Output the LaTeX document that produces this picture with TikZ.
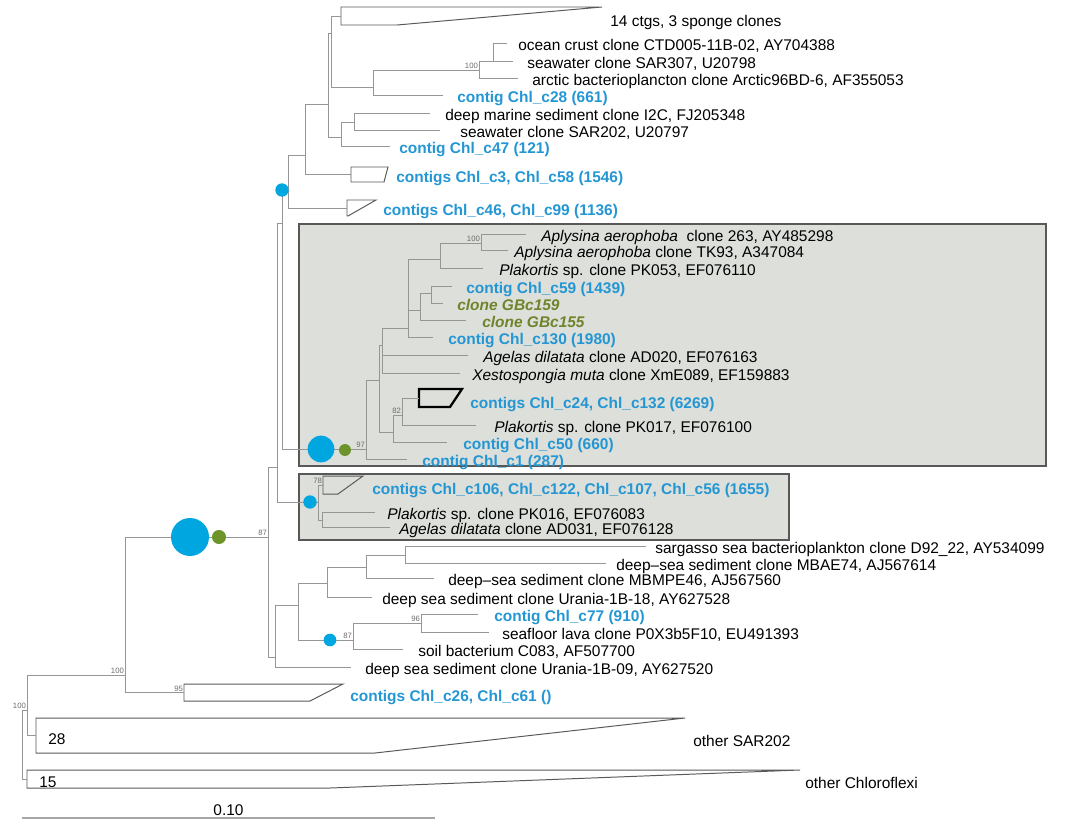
\documentclass[tikz,border=0pt]{standalone}
\usepackage{fontspec}
\setmainfont{Liberation Sans}
\usepackage{xcolor}
\usepackage{tikz}
\usetikzlibrary{positioning}

\definecolor{ctgblue}{RGB}{36,150,212}
\definecolor{dotblue}{RGB}{0,166,224}
\definecolor{dotgreen}{RGB}{108,148,42}
\definecolor{gbcolive}{RGB}{112,132,44}
\definecolor{boxfill}{RGB}{220,223,218}
\definecolor{boxline}{RGB}{88,88,88}
\definecolor{branch}{RGB}{150,150,150}

\newcommand{\ctg}[1]{\textcolor{ctgblue}{\bfseries #1}}
\newcommand{\gbc}[1]{\textcolor{gbcolive}{\bfseries\itshape #1}}

\tikzset{
  br/.style={draw=branch, line width=0.65pt},
  clade/.style={draw=gray!70!black, line width=0.7pt},
  leaf/.style={anchor=base west, inner sep=0pt, font=\fontsize{11}{12.5}\selectfont},
  boot/.style={anchor=south east, inner sep=0.6pt, text=gray!85!black, font=\fontsize{5.5}{6}\selectfont},
  sponge/.style={fill=boxfill, draw=boxline, line width=1.3pt},
  bdot/.style={circle, fill=dotblue, inner sep=0pt},
  gdot/.style={circle, fill=dotgreen, inner sep=0pt},
}

\begin{document}
\begin{tikzpicture}[x=0.025cm,y=-0.025cm]
  \useasboundingbox (0,0) rectangle (1073,824);
  \filldraw[sponge] (299,224) rectangle (1046,466);
  \filldraw[sponge] (299,474) rectangle (789,540);

  \foreach \nm/\x/\y in {R/22/744, S/27/710, n125/125/675, nA/268/537, nE/277/467, nF/275/657,
      nD/282/223, nC/288/190, n305/305/155, n328/328/104, n331/331/33, n373/373/87,
      n479/479/70, n493/493/61, n341/341/137, n354/354/122,
      n366/366/449, n379/379/380, n382/382/345, n408/408/328, n440/440/259, n481/481/243,
      n420/420/310, n431/431/293, n393/393/432, n402/402/415,
      nG/318/502, nH/322/520, nI/298/605, nJ/327/583, nL/366/567, nM/405/555,
      nK/353/640, nN/421/623}
    \coordinate (\nm) at (\x,\y);

  \foreach \nm/\xa/\ya/\xb/\xc/\yb in {c14/341/7/602/397/25, c3/351/167/388/384/182,
      c46/347/200/376/348/216, c106/323/476/363/338/494, c26/184/684/343/310/701,
      sar28/36/718/685/375/753, chl15/27/770/800/330/788}{
    \draw[clade] (\xa,\ya) -- (\xb,\ya) -- (\xc,\yb) -- (\xa,\yb) -- cycle;
    \coordinate (\nm) at (\xa,{(\ya+\yb)/2});
  }
  \draw[clade, draw=black, line width=1.6pt] (419,389) -- (462,389) -- (450,407) -- (419,407) -- cycle;
  \coordinate (c24) at (419,398);

  \foreach \nm/\xe/\y/\xt/\txt in {
      ocean/507/43/518/{ocean crust clone CTD005-11B-02, AY704388},
      sar307/513/61/527/{seawater clone SAR307, U20798},
      arctic/518/78/532/{arctic bacterioplancton clone Arctic96BD-6, AF355053},
      c28/443/95/457/{\ctg{contig Chl\_c28 (661)}},
      i2c/430/113/445/{deep marine sediment clone I2C, FJ205348},
      sar202/440/130/460/{seawater clone SAR202, U20797},
      c47/390/146/399/{\ctg{contig Chl\_c47 (121)}},
      ap263/526/234/541/{\textit{Aplysina aerophoba}\ \ clone 263, AY485298},
      tk93/508/250/514/{\textit{Aplysina aerophoba} clone TK93, A347084},
      pk053/483/268/499/{\textit{Plakortis} sp. clone PK053, EF076110},
      c59/452/286/466/{\ctg{contig Chl\_c59 (1439)}},
      gbc159/443/303/457/{\gbc{clone GBc159}},
      gbc155/466/320/482/{\gbc{clone GBc155}},
      c130/433/337/448/{\ctg{contig Chl\_c130 (1980)}},
      ad020/468/355/483/{\textit{Agelas dilatata} clone AD020, EF076163},
      xesto/460/373/472/{\textit{Xestospongia muta} clone XmE089, EF159883},
      pk017/476/425/494/{\textit{Plakortis} sp. clone PK017, EF076100},
      c50/447/442/463/{\ctg{contig Chl\_c50 (660)}},
      c1/407/459/422/{\ctg{contig Chl\_c1 (287)}},
      pk016/375/512/387/{\textit{Plakortis} sp. clone PK016, EF076083},
      ad031/390/527/399/{\textit{Agelas dilatata} clone AD031, EF076128},
      sargasso/646/546/655/{sargasso sea bacterioplankton clone D92\_22, AY534099},
      mbae74/606/563/616/{deep--sea sediment clone MBAE74, AJ567614},
      mbmpe46/434/578/448/{deep--sea sediment clone MBMPE46, AJ567560},
      urania18/372/597/382/{deep sea sediment clone Urania-1B-18, AY627528},
      c77/478/614/494/{\ctg{contig Chl\_c77 (910)}},
      seafloor/489/632/502/{seafloor lava clone P0X3b5F10, EU491393},
      soil/403/649/418/{soil bacterium C083, AF507700},
      urania09/351/667/365/{deep sea sediment clone Urania-1B-09, AY627520}}{
    \coordinate (l\nm) at (\xe,\y);
    \node[leaf] (t\nm) at (\xt,\y+7.5) {\txt};
  }

  \foreach \nm/\x/\y/\txt in {c14/610/26/{14 ctgs, 3 sponge clones},
      c3/396/182/{\ctg{contigs Chl\_c3, Chl\_c58 (1546)}},
      c46/383/215/{\ctg{contigs Chl\_c46, Chl\_c99 (1136)}},
      c24/470/408/{\ctg{contigs Chl\_c24, Chl\_c132 (6269)}},
      c106/372/494/{\ctg{contigs Chl\_c106, Chl\_c122, Chl\_c107, Chl\_c56 (1655)}},
      c26/350/701/{\ctg{contigs Chl\_c26, Chl\_c61 ()}},
      sar28/693/746/{other SAR202}, chl15/805/788/{other Chloroflexi},
      n28/48/744/{28}, n15/39/787/{15}}
    \node[leaf] (t\nm) at (\x,\y) {\txt};

  \foreach \p/\c in {R/S, R/chl15, S/n125, S/sar28, n125/nA, n125/c26, nA/nE, nA/nF,
      nE/nD, nE/nG, nD/nC, nD/n366, nC/n305, nC/c46, n305/n328, n305/c3,
      n328/n331, n328/n341, n331/c14, n331/n373, n373/n479, n373/lc28,
      n479/n493, n479/larctic, n493/locean, n493/lsar307, n341/n354, n341/lc47,
      n354/li2c, n354/lsar202, n366/n379, n366/lc1, n379/n382, n379/n393,
      n382/n408, n382/lad020, n382/lxesto, n408/n440, n408/n420, n408/lc130,
      n440/n481, n440/lpk053, n481/lap263, n481/ltk93, n420/n431, n420/lgbc155,
      n431/lc59, n431/lgbc159, n393/n402, n393/lc50, n402/c24, n402/lpk017,
      nG/c106, nG/nH, nH/lpk016, nH/lad031, nF/nI, nF/lurania09, nI/nJ, nI/nK,
      nJ/nL, nJ/lurania18, nL/nM, nL/lmbmpe46, nM/lsargasso, nM/lmbae74,
      nK/nN, nK/lsoil, nN/lc77, nN/lseafloor}
    \draw[br] (\p) |- (\c);

  \foreach \nm/\v in {S/100, n125/100, nA/87, c26/95, n479/100, n481/100, n366/97,
      n402/82, c106/78, nK/87, nN/96}
    \node[boot] (b\nm) at (\nm) {\v};

  \node[bdot, minimum size=9.5pt] (dtop) at (282,190) {};
  \node[bdot, minimum size=19pt] (dbox1) at (321,449) {};
  \node[gdot, minimum size=8.5pt] (gbox1) at (345,450) {};
  \node[bdot, minimum size=9.5pt] (dbox2) at (310,502) {};
  \node[bdot, minimum size=27pt] (dbig) at (190,537) {};
  \node[gdot, minimum size=10pt] (gbig) at (219,537) {};
  \node[bdot, minimum size=9pt] (dlow) at (330,640) {};

  \coordinate (sb0) at (22,818);
  \coordinate (sb1) at (435,818);
  \draw[draw=gray!70, line width=1pt] (sb0) -- node[above, inner sep=1pt, font=\fontsize{11}{12.5}\selectfont] (tsb) {0.10} (sb1);
\end{tikzpicture}
\end{document}
